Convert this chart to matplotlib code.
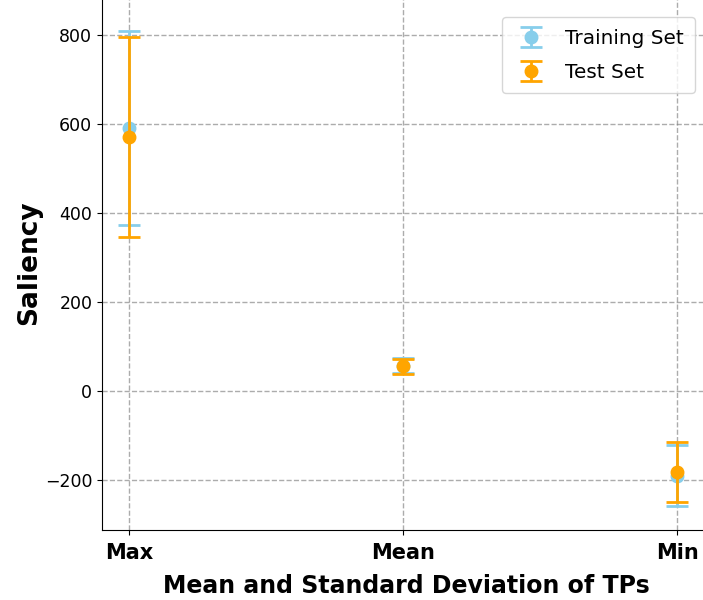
import matplotlib
matplotlib.use("Agg")
import matplotlib.pyplot as plt
import numpy as np

categories = ["Max", "Mean", "Min"]
train_mean = [591, 57, -190]
train_std = [218, 17, 68]
test_mean = [571, 56, -182]
test_std = [224, 17, 67]

fig = plt.figure(figsize=(7.03, 6.0), dpi=100)
ax = fig.add_axes([0.1451, 0.1167, 0.865, 0.8917])

x = np.arange(len(categories))
ax.errorbar(x, train_mean, yerr=train_std, fmt="o", color="skyblue",
            ecolor="skyblue", elinewidth=2, capsize=8, capthick=2,
            markersize=9, label="Training Set", zorder=3)
ax.errorbar(x, test_mean, yerr=test_std, fmt="o", color="orange",
            ecolor="orange", elinewidth=2, capsize=8, capthick=2,
            markersize=9, label="Test Set", zorder=4)

ax.set_xlim(-0.1, 2.12)
ax.set_ylim(-312, 890)
ax.set_xticks(x)
ax.set_xticklabels(categories, fontsize=15, fontweight="bold")
ax.set_yticks([-200, 0, 200, 400, 600, 800])
ax.tick_params(axis="y", labelsize=12.5)
ax.tick_params(axis="x", pad=6)
ax.set_xlabel("Mean and Standard Deviation of TPs", fontsize=17,
              fontweight="bold", labelpad=8)
ax.set_ylabel("Saliency", fontsize=19, fontweight="bold", labelpad=2)
ax.grid(True, linestyle="--", color="gray", alpha=0.65, linewidth=1)
ax.set_axisbelow(True)

ax.legend(loc="upper right", fontsize=14.4, borderaxespad=0,
          labelspacing=0.75, borderpad=0.58, handlelength=1.75,
          bbox_to_anchor=(695 / 703, 1 - 17 / 600),
          bbox_transform=fig.transFigure)

fig.savefig("out.png", dpi=100)
